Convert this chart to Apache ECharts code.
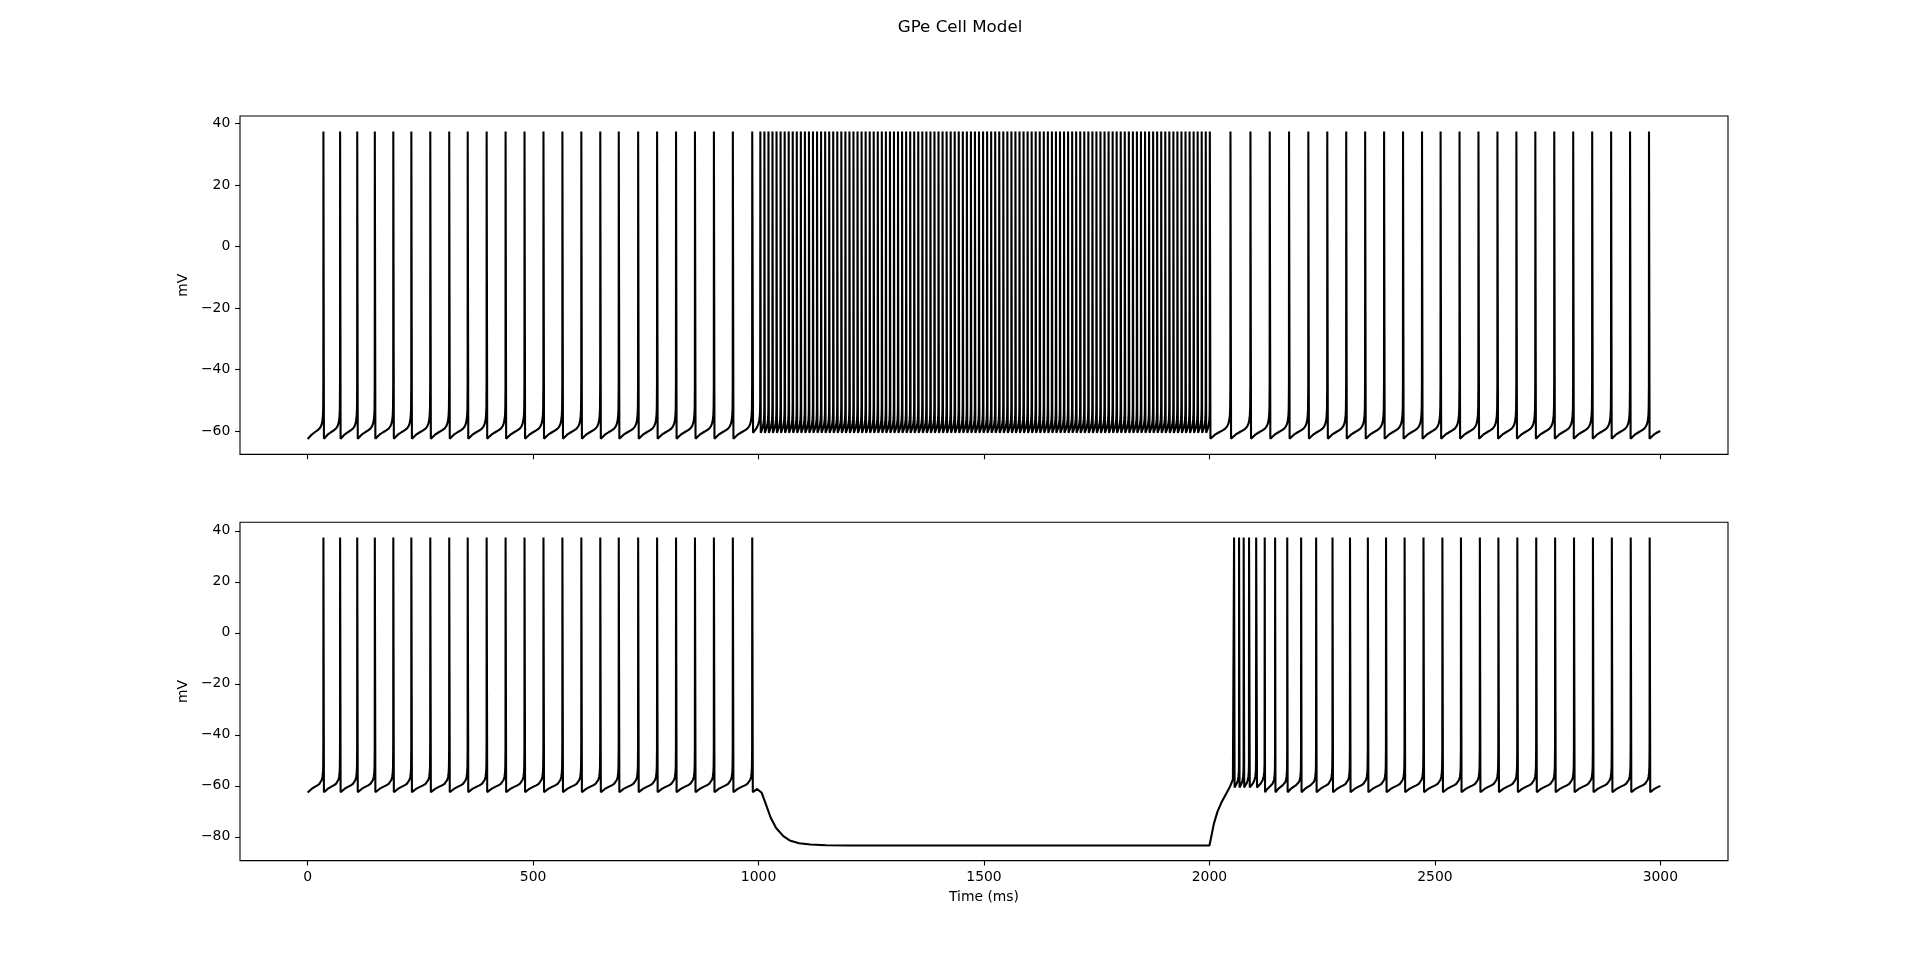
<!DOCTYPE html>
<html>
<head>
<meta charset="utf-8">
<script src="https://cdn.jsdelivr.net/npm/echarts@6/dist/echarts.min.js"></script>
<style>
html,body{margin:0;padding:0;background:#fff;}
#chart{width:1920px;height:967px;}
</style>
</head>
<body>
<div id="chart"></div>
<script>
// ---- tick labels ----
const timeTicks = [0, 500, 1000, 1500, 2000, 2500, 3000];
const vTicksTop = [-60, -40, -20, 0, 20, 40];
const vTicksBottom = [-80, -60, -40, -20, 0, 20, 40];

// ---- spike peak times (ms) ----
const spikesEarly = [35, 72, 110, 149, 190, 230, 272, 314, 355, 397, 439, 481, 523, 565, 607, 649, 690, 733, 775, 817, 859, 901, 943, 986];
const spikesTopDrive = [
  1004.0, 1013.0, 1022.0, 1030.9, 1039.9, 1048.9, 1057.9, 1066.9, 1075.8, 1084.8,
  1093.8, 1102.8, 1111.8, 1120.7, 1129.7, 1138.7, 1147.7, 1156.7, 1165.6, 1174.6,
  1183.6, 1192.6, 1201.6, 1210.5, 1219.5, 1228.5, 1237.5, 1246.5, 1255.4, 1264.4,
  1273.4, 1282.4, 1291.4, 1300.3, 1309.3, 1318.3, 1327.3, 1336.3, 1345.2, 1354.2,
  1363.2, 1372.2, 1381.2, 1390.1, 1399.1, 1408.1, 1417.1, 1426.1, 1435.0, 1444.0,
  1453.0, 1462.0, 1471.0, 1479.9, 1488.9, 1497.9, 1506.9, 1515.9, 1524.8, 1533.8,
  1542.8, 1551.8, 1560.8, 1569.7, 1578.7, 1587.7, 1596.7, 1605.7, 1614.6, 1623.6,
  1632.6, 1641.6, 1650.6, 1659.5, 1668.5, 1677.5, 1686.5, 1695.5, 1704.4, 1713.4,
  1722.4, 1731.4, 1740.4, 1749.3, 1758.3, 1767.3, 1776.3, 1785.3, 1794.2, 1803.2,
  1812.2, 1821.2, 1830.2, 1839.1, 1848.1, 1857.1, 1866.1, 1875.1, 1884.0, 1893.0,
  1902.0, 1911.0, 1920.0, 1928.9, 1937.9, 1946.9, 1955.9, 1964.9, 1973.8, 1982.8,
  1991.8, 2000.8];
const spikesTopLate = [2046.6, 2090.9, 2133.7, 2176.5, 2219.3, 2261.3, 2303.3, 2345.3, 2387.3, 2429.3, 2471.4, 2512.6, 2554.6, 2596.6, 2638.7, 2680.7, 2722.7, 2764.7, 2806.7, 2848.8, 2890.8, 2932.8, 2974.8];
const spikesBottomLate = [2054.6, 2065.7, 2075.9, 2087.8, 2103.6, 2122.6, 2145.6, 2172.5, 2203.3, 2236.6, 2272.9, 2311.7, 2351.3, 2391.6, 2432.8, 2474.7, 2516.6, 2557.8, 2599.7, 2640.8, 2682.8, 2724.7, 2766.6, 2808.5, 2850.5, 2892.4, 2934.3, 2976.3];

// ---- voltage levels (mV) ----
const peakV = 37.4;
const startV = -62.6;
const endV = -60.0;
// between-spike trajectory, [fraction of interval, mV], slow (regular) firing
const isiShapeSlow = [[0.03, -62.5], [0.1, -62.0], [0.25, -61.2], [0.45, -60.4], [0.62, -59.8], [0.75, -59.2], [0.84, -58.5], [0.9, -57.6], [0.94, -56.5], [0.97, -54.8], [0.985, -52.5], [0.995, -45]];
// fast firing (driven / rebound burst)
const isiShapeFast = [[0.1, -60.6], [0.3, -60.0], [0.55, -59.0], [0.75, -57.8], [0.88, -56.3], [0.95, -54.5], [0.98, -51]];
// lower trace: hyperpolarisation during the 1000-2000 ms pulse
const hyperT = [998, 1001, 1007, 1015, 1027, 1039, 1055, 1069, 1090, 1115, 1150, 1200, 2000];
const hyperV = [-61.8, -60.8, -62.7, -66.6, -72.5, -76.5, -79.7, -81.4, -82.5, -83.0, -83.3, -83.4, -83.4];
// rebound after release
const reboundT = [2004.7, 2010, 2018, 2028, 2038, 2046, 2052];
const reboundV = [-79.3, -74.7, -70.0, -66.0, -62.8, -60.1, -57.5];

function shapeFor(isi) { return isi < 20 ? isiShapeFast : isiShapeSlow; }

// points between tPrev (a spike or start) and tNext, using the read trajectory
function interval(out, tPrev, tNext, skipTrough, tLimit) {
  const isi = tNext - tPrev;
  const sh = shapeFor(isi);
  for (const [f, v] of sh) {
    if (skipTrough && f < 0.2) continue;
    const t = tPrev + f * isi;
    if (tLimit !== undefined && t >= tLimit) break;
    out.push([t, v]);
  }
}

function spikeTrain(out, spikes) {
  for (let i = 0; i < spikes.length; i++) {
    out.push([spikes[i], peakV]);
    if (i + 1 < spikes.length) interval(out, spikes[i], spikes[i + 1], false);
  }
}

// ---- top trace ----
const topSpikes = spikesEarly.concat(spikesTopDrive, spikesTopLate);
const topData = [[0, startV]];
interval(topData, 0, topSpikes[0], true);
spikeTrain(topData, topSpikes);
{
  const n = topSpikes.length;
  const last = topSpikes[n - 1], isi = last - topSpikes[n - 2];
  interval(topData, last, last + isi, false, 3000);
  topData.push([3000, endV]);
}

// ---- bottom trace ----
const botData = [[0, startV]];
interval(botData, 0, spikesEarly[0], true);
spikeTrain(botData, spikesEarly);
{
  const n = spikesEarly.length;
  const last = spikesEarly[n - 1], isi = last - spikesEarly[n - 2];
  interval(botData, last, last + isi, false, hyperT[0]);
  hyperT.forEach((t, i) => botData.push([t, hyperV[i]]));
  reboundT.forEach((t, i) => botData.push([t, reboundV[i]]));
  spikeTrain(botData, spikesBottomLate);
  const m = spikesBottomLate.length;
  const lastB = spikesBottomLate[m - 1], isiB = lastB - spikesBottomLate[m - 2];
  interval(botData, lastB, lastB + isiB, false, 3000);
  botData.push([3000, endV]);
}

const FONT = 'DejaVu Sans';
const fmt = v => String(v).replace('-', '\u2212');

const gridL = 240, gridW = 1488, gridH = 338.4;
const chart = echarts.init(document.getElementById('chart'), null, { renderer: 'canvas' });

function xAxisFor(idx, showLabels) {
  return {
    type: 'value', gridIndex: idx, min: -150, max: 3150, position: 'bottom',
    axisLine: { show: false, onZero: false },
    splitLine: { show: false },
    axisTick: { show: true, inside: false, length: 4.9, lineStyle: { color: '#000', width: 1.1 }, customValues: timeTicks },
    axisLabel: { show: showLabels, customValues: timeTicks, color: '#000', fontFamily: FONT, fontSize: 13.9, margin: 9.7, formatter: fmt },
    name: showLabels ? 'Time (ms)' : '',
    nameLocation: 'middle', nameGap: 30,
    nameTextStyle: { color: '#000', fontFamily: FONT, fontSize: 13.9 }
  };
}
function yAxisFor(idx, ticks, min, max) {
  return {
    type: 'value', gridIndex: idx, min: min, max: max, position: 'left',
    axisLine: { show: false, onZero: false },
    splitLine: { show: false },
    axisTick: { show: true, inside: false, length: 4.9, lineStyle: { color: '#000', width: 1.1 }, customValues: ticks },
    axisLabel: { customValues: ticks, color: '#000', fontFamily: FONT, fontSize: 13.9, margin: 9.7, formatter: fmt },
    name: 'mV', nameLocation: 'middle', nameRotate: 90, nameGap: 42,
    nameTextStyle: { color: '#000', fontFamily: FONT, fontSize: 13.9 }
  };
}

chart.setOption({
  animation: false,
  backgroundColor: '#fff',
  title: {
    text: 'GPe Cell Model', left: 'center', top: 19.5, padding: 0,
    textStyle: { color: '#000', fontFamily: FONT, fontSize: 16.7, fontWeight: 'normal' }
  },
  grid: [
    { left: gridL, top: 116, width: gridW, height: gridH, show: true, borderColor: '#000', borderWidth: 1.1, backgroundColor: 'transparent' },
    { left: gridL, top: 522.2, width: gridW, height: gridH, show: true, borderColor: '#000', borderWidth: 1.1, backgroundColor: 'transparent' }
  ],
  xAxis: [xAxisFor(0, false), xAxisFor(1, true)],
  yAxis: [yAxisFor(0, vTicksTop, -67.6, 42.4), yAxisFor(1, vTicksBottom, -89.3, 43.4)],
  series: [
    { type: 'line', xAxisIndex: 0, yAxisIndex: 0, data: topData, showSymbol: false, symbol: 'none',
      lineStyle: { color: '#000', width: 2.1 }, silent: true },
    { type: 'line', xAxisIndex: 1, yAxisIndex: 1, data: botData, showSymbol: false, symbol: 'none',
      lineStyle: { color: '#000', width: 2.1 }, silent: true }
  ]
});
</script>
</body>
</html>
